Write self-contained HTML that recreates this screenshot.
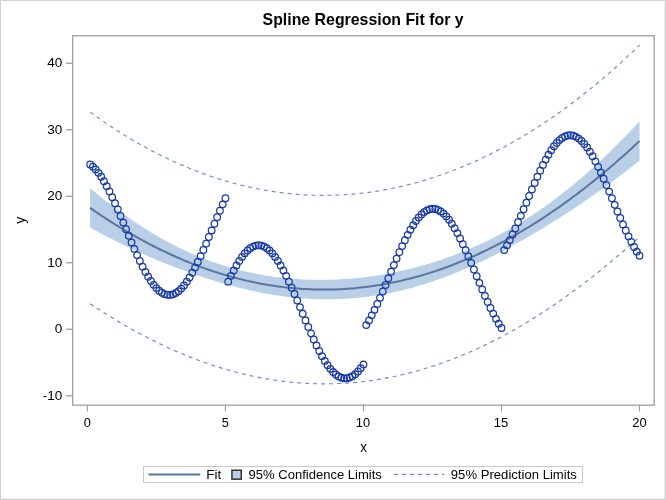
<!DOCTYPE html>
<html><head><meta charset="utf-8"><title>Spline Regression Fit for y</title>
<style>
html,body{margin:0;padding:0;background:#fff;}
svg{display:block;font-family:"Liberation Sans",sans-serif;}
</style></head><body>
<svg width="666" height="500" viewBox="0 0 666 500">
<rect x="0" y="0" width="666" height="500" fill="#fff"/>
<path d="M0,0H666V500H0Z M1,1V498.65H664.65V1Z" fill="#d0d0d0" fill-rule="evenodd"/>
<g fill="#000"><text transform="translate(363.1,25.4) scale(1.005,1)" text-anchor="middle" font-size="15.8" font-weight="bold">Spline Regression Fit for y</text></g>
<path d="M90.16,188.24 L92.92,190.55 L95.68,192.83 L98.44,195.08 L101.20,197.30 L103.96,199.49 L106.73,201.66 L109.49,203.79 L112.25,205.90 L115.01,207.97 L117.77,210.02 L120.53,212.04 L123.29,214.02 L126.05,215.98 L128.81,217.91 L131.57,219.81 L134.33,221.68 L137.09,223.51 L139.85,225.32 L142.61,227.10 L145.38,228.85 L148.14,230.56 L150.90,232.25 L153.66,233.91 L156.42,235.53 L159.18,237.13 L161.94,238.69 L164.70,240.22 L167.46,241.72 L170.22,243.19 L172.98,244.63 L175.74,246.04 L178.50,247.42 L181.27,248.76 L184.03,250.08 L186.79,251.36 L189.55,252.61 L192.31,253.83 L195.07,255.02 L197.83,256.18 L200.59,257.31 L203.35,258.41 L206.11,259.48 L208.87,260.51 L211.63,261.52 L214.39,262.49 L217.16,263.44 L219.92,264.36 L222.68,265.24 L225.44,266.10 L228.20,266.93 L230.96,267.73 L233.72,268.50 L236.48,269.25 L239.24,269.96 L242.00,270.65 L244.76,271.31 L247.52,271.95 L250.28,272.56 L253.04,273.14 L255.81,273.69 L258.57,274.22 L261.33,274.73 L264.09,275.21 L266.85,275.66 L269.61,276.09 L272.37,276.50 L275.13,276.88 L277.89,277.24 L280.65,277.57 L283.41,277.89 L286.17,278.17 L288.93,278.44 L291.70,278.68 L294.46,278.90 L297.22,279.09 L299.98,279.27 L302.74,279.42 L305.50,279.55 L308.26,279.66 L311.02,279.74 L313.78,279.81 L316.54,279.85 L319.30,279.87 L322.06,279.87 L324.82,279.85 L327.59,279.80 L330.35,279.74 L333.11,279.65 L335.87,279.54 L338.63,279.42 L341.39,279.27 L344.15,279.10 L346.91,278.91 L349.67,278.69 L352.43,278.46 L355.19,278.21 L357.95,277.93 L360.71,277.64 L363.47,277.32 L366.24,276.99 L369.00,276.63 L371.76,276.25 L374.52,275.85 L377.28,275.43 L380.04,274.99 L382.80,274.53 L385.56,274.05 L388.32,273.54 L391.08,273.02 L393.84,272.48 L396.60,271.91 L399.36,271.32 L402.13,270.71 L404.89,270.08 L407.65,269.43 L410.41,268.76 L413.17,268.07 L415.93,267.35 L418.69,266.61 L421.45,265.86 L424.21,265.07 L426.97,264.27 L429.73,263.45 L432.49,262.60 L435.25,261.73 L438.02,260.84 L440.78,259.92 L443.54,258.99 L446.30,258.03 L449.06,257.04 L451.82,256.03 L454.58,255.00 L457.34,253.95 L460.10,252.87 L462.86,251.76 L465.62,250.64 L468.38,249.48 L471.14,248.31 L473.90,247.10 L476.67,245.87 L479.43,244.62 L482.19,243.34 L484.95,242.03 L487.71,240.69 L490.47,239.33 L493.23,237.94 L495.99,236.52 L498.75,235.08 L501.51,233.60 L504.27,232.10 L507.03,230.57 L509.79,229.01 L512.56,227.42 L515.32,225.80 L518.08,224.15 L520.84,222.47 L523.60,220.76 L526.36,219.02 L529.12,217.25 L531.88,215.45 L534.64,213.62 L537.40,211.76 L540.16,209.86 L542.92,207.94 L545.68,205.98 L548.45,203.99 L551.21,201.98 L553.97,199.93 L556.73,197.84 L559.49,195.73 L562.25,193.59 L565.01,191.41 L567.77,189.21 L570.53,186.97 L573.29,184.70 L576.05,182.40 L578.81,180.08 L581.57,177.72 L584.33,175.33 L587.10,172.91 L589.86,170.45 L592.62,167.97 L595.38,165.46 L598.14,162.92 L600.90,160.35 L603.66,157.75 L606.42,155.12 L609.18,152.46 L611.94,149.77 L614.70,147.05 L617.46,144.30 L620.22,141.52 L622.99,138.71 L625.75,135.87 L628.51,133.01 L631.27,130.11 L634.03,127.19 L636.79,124.24 L639.55,121.26 L639.55,160.63 L636.79,162.83 L634.03,165.01 L631.27,167.18 L628.51,169.32 L625.75,171.46 L622.99,173.57 L620.22,175.67 L617.46,177.75 L614.70,179.82 L611.94,181.87 L609.18,183.90 L606.42,185.92 L603.66,187.92 L600.90,189.91 L598.14,191.88 L595.38,193.84 L592.62,195.78 L589.86,197.70 L587.10,199.61 L584.33,201.51 L581.57,203.38 L578.81,205.25 L576.05,207.10 L573.29,208.93 L570.53,210.75 L567.77,212.56 L565.01,214.35 L562.25,216.12 L559.49,217.88 L556.73,219.63 L553.97,221.36 L551.21,223.08 L548.45,224.79 L545.68,226.48 L542.92,228.15 L540.16,229.81 L537.40,231.46 L534.64,233.09 L531.88,234.71 L529.12,236.31 L526.36,237.90 L523.60,239.47 L520.84,241.03 L518.08,242.58 L515.32,244.10 L512.56,245.62 L509.79,247.11 L507.03,248.59 L504.27,250.06 L501.51,251.50 L498.75,252.93 L495.99,254.35 L493.23,255.74 L490.47,257.12 L487.71,258.48 L484.95,259.82 L482.19,261.14 L479.43,262.45 L476.67,263.73 L473.90,264.99 L471.14,266.24 L468.38,267.46 L465.62,268.67 L462.86,269.85 L460.10,271.01 L457.34,272.16 L454.58,273.28 L451.82,274.38 L449.06,275.45 L446.30,276.51 L443.54,277.54 L440.78,278.55 L438.02,279.54 L435.25,280.50 L432.49,281.44 L429.73,282.36 L426.97,283.26 L424.21,284.13 L421.45,284.98 L418.69,285.80 L415.93,286.60 L413.17,287.38 L410.41,288.13 L407.65,288.86 L404.89,289.57 L402.13,290.25 L399.36,290.91 L396.60,291.54 L393.84,292.15 L391.08,292.73 L388.32,293.29 L385.56,293.82 L382.80,294.33 L380.04,294.82 L377.28,295.28 L374.52,295.71 L371.76,296.12 L369.00,296.51 L366.24,296.87 L363.47,297.21 L360.71,297.52 L357.95,297.81 L355.19,298.07 L352.43,298.31 L349.67,298.52 L346.91,298.71 L344.15,298.87 L341.39,299.01 L338.63,299.12 L335.87,299.21 L333.11,299.28 L330.35,299.32 L327.59,299.34 L324.82,299.33 L322.06,299.30 L319.30,299.24 L316.54,299.16 L313.78,299.06 L311.02,298.93 L308.26,298.78 L305.50,298.60 L302.74,298.40 L299.98,298.18 L297.22,297.94 L294.46,297.67 L291.70,297.38 L288.93,297.06 L286.17,296.73 L283.41,296.37 L280.65,295.99 L277.89,295.58 L275.13,295.16 L272.37,294.71 L269.61,294.24 L266.85,293.75 L264.09,293.24 L261.33,292.71 L258.57,292.16 L255.81,291.59 L253.04,291.00 L250.28,290.38 L247.52,289.75 L244.76,289.10 L242.00,288.44 L239.24,287.75 L236.48,287.05 L233.72,286.32 L230.96,285.58 L228.20,284.83 L225.44,284.05 L222.68,283.26 L219.92,282.46 L217.16,281.63 L214.39,280.79 L211.63,279.94 L208.87,279.07 L206.11,278.18 L203.35,277.28 L200.59,276.37 L197.83,275.44 L195.07,274.50 L192.31,273.54 L189.55,272.56 L186.79,271.57 L184.03,270.57 L181.27,269.56 L178.50,268.52 L175.74,267.48 L172.98,266.42 L170.22,265.35 L167.46,264.26 L164.70,263.16 L161.94,262.04 L159.18,260.91 L156.42,259.76 L153.66,258.60 L150.90,257.42 L148.14,256.23 L145.38,255.03 L142.61,253.81 L139.85,252.57 L137.09,251.32 L134.33,250.05 L131.57,248.77 L128.81,247.47 L126.05,246.16 L123.29,244.83 L120.53,243.48 L117.77,242.12 L115.01,240.74 L112.25,239.35 L109.49,237.94 L106.73,236.52 L103.96,235.07 L101.20,233.62 L98.44,232.14 L95.68,230.65 L92.92,229.14 L90.16,227.62Z" fill="#b9cfe7" stroke="none"/>
<path d="M90.16,207.93 L92.92,209.85 L95.68,211.74 L98.44,213.61 L101.20,215.46 L103.96,217.28 L106.73,219.09 L109.49,220.87 L112.25,222.62 L115.01,224.36 L117.77,226.07 L120.53,227.76 L123.29,229.43 L126.05,231.07 L128.81,232.69 L131.57,234.29 L134.33,235.86 L137.09,237.42 L139.85,238.95 L142.61,240.45 L145.38,241.94 L148.14,243.40 L150.90,244.84 L153.66,246.25 L156.42,247.65 L159.18,249.02 L161.94,250.36 L164.70,251.69 L167.46,252.99 L170.22,254.27 L172.98,255.53 L175.74,256.76 L178.50,257.97 L181.27,259.16 L184.03,260.33 L186.79,261.47 L189.55,262.59 L192.31,263.69 L195.07,264.76 L197.83,265.81 L200.59,266.84 L203.35,267.85 L206.11,268.83 L208.87,269.79 L211.63,270.73 L214.39,271.64 L217.16,272.54 L219.92,273.41 L222.68,274.25 L225.44,275.08 L228.20,275.88 L230.96,276.66 L233.72,277.41 L236.48,278.15 L239.24,278.86 L242.00,279.54 L244.76,280.21 L247.52,280.85 L250.28,281.47 L253.04,282.07 L255.81,282.64 L258.57,283.19 L261.33,283.72 L264.09,284.22 L266.85,284.71 L269.61,285.17 L272.37,285.60 L275.13,286.02 L277.89,286.41 L280.65,286.78 L283.41,287.13 L286.17,287.45 L288.93,287.75 L291.70,288.03 L294.46,288.28 L297.22,288.52 L299.98,288.73 L302.74,288.91 L305.50,289.08 L308.26,289.22 L311.02,289.34 L313.78,289.43 L316.54,289.51 L319.30,289.56 L322.06,289.58 L324.82,289.59 L327.59,289.57 L330.35,289.53 L333.11,289.47 L335.87,289.38 L338.63,289.27 L341.39,289.14 L344.15,288.98 L346.91,288.81 L349.67,288.61 L352.43,288.38 L355.19,288.14 L357.95,287.87 L360.71,287.58 L363.47,287.26 L366.24,286.93 L369.00,286.57 L371.76,286.19 L374.52,285.78 L377.28,285.35 L380.04,284.90 L382.80,284.43 L385.56,283.93 L388.32,283.42 L391.08,282.87 L393.84,282.31 L396.60,281.72 L399.36,281.11 L402.13,280.48 L404.89,279.83 L407.65,279.15 L410.41,278.45 L413.17,277.72 L415.93,276.98 L418.69,276.21 L421.45,275.42 L424.21,274.60 L426.97,273.76 L429.73,272.90 L432.49,272.02 L435.25,271.12 L438.02,270.19 L440.78,269.24 L443.54,268.26 L446.30,267.27 L449.06,266.25 L451.82,265.20 L454.58,264.14 L457.34,263.05 L460.10,261.94 L462.86,260.81 L465.62,259.65 L468.38,258.47 L471.14,257.27 L473.90,256.05 L476.67,254.80 L479.43,253.53 L482.19,252.24 L484.95,250.92 L487.71,249.59 L490.47,248.22 L493.23,246.84 L495.99,245.43 L498.75,244.01 L501.51,242.55 L504.27,241.08 L507.03,239.58 L509.79,238.06 L512.56,236.52 L515.32,234.95 L518.08,233.36 L520.84,231.75 L523.60,230.12 L526.36,228.46 L529.12,226.78 L531.88,225.08 L534.64,223.36 L537.40,221.61 L540.16,219.84 L542.92,218.05 L545.68,216.23 L548.45,214.39 L551.21,212.53 L553.97,210.64 L556.73,208.74 L559.49,206.81 L562.25,204.86 L565.01,202.88 L567.77,200.88 L570.53,198.86 L573.29,196.82 L576.05,194.75 L578.81,192.66 L581.57,190.55 L584.33,188.42 L587.10,186.26 L589.86,184.08 L592.62,181.88 L595.38,179.65 L598.14,177.40 L600.90,175.13 L603.66,172.84 L606.42,170.52 L609.18,168.18 L611.94,165.82 L614.70,163.43 L617.46,161.02 L620.22,158.59 L622.99,156.14 L625.75,153.66 L628.51,151.17 L631.27,148.64 L634.03,146.10 L636.79,143.53 L639.55,140.94" fill="none" stroke="#5b759f" stroke-width="2"/>
<path d="M90.16,112.15 L92.92,114.14 L95.68,116.11 L98.44,118.06 L101.20,119.98 L103.96,121.87 L106.73,123.74 L109.49,125.59 L112.25,127.41 L115.01,129.20 L117.77,130.97 L120.53,132.71 L123.29,134.43 L126.05,136.13 L128.81,137.79 L131.57,139.44 L134.33,141.06 L137.09,142.65 L139.85,144.22 L142.61,145.77 L145.38,147.29 L148.14,148.79 L150.90,150.26 L153.66,151.71 L156.42,153.13 L159.18,154.53 L161.94,155.90 L164.70,157.25 L167.46,158.58 L170.22,159.88 L172.98,161.16 L175.74,162.41 L178.50,163.64 L181.27,164.85 L184.03,166.03 L186.79,167.19 L189.55,168.32 L192.31,169.43 L195.07,170.52 L197.83,171.58 L200.59,172.62 L203.35,173.64 L206.11,174.63 L208.87,175.60 L211.63,176.54 L214.39,177.46 L217.16,178.36 L219.92,179.23 L222.68,180.08 L225.44,180.91 L228.20,181.71 L230.96,182.50 L233.72,183.25 L236.48,183.99 L239.24,184.70 L242.00,185.39 L244.76,186.05 L247.52,186.69 L250.28,187.31 L253.04,187.90 L255.81,188.48 L258.57,189.03 L261.33,189.55 L264.09,190.06 L266.85,190.54 L269.61,190.99 L272.37,191.43 L275.13,191.84 L277.89,192.23 L280.65,192.59 L283.41,192.93 L286.17,193.25 L288.93,193.55 L291.70,193.83 L294.46,194.08 L297.22,194.31 L299.98,194.51 L302.74,194.70 L305.50,194.86 L308.26,194.99 L311.02,195.11 L313.78,195.20 L316.54,195.27 L319.30,195.32 L322.06,195.34 L324.82,195.35 L327.59,195.32 L330.35,195.28 L333.11,195.22 L335.87,195.13 L338.63,195.02 L341.39,194.88 L344.15,194.73 L346.91,194.55 L349.67,194.35 L352.43,194.12 L355.19,193.88 L357.95,193.61 L360.71,193.32 L363.47,193.00 L366.24,192.67 L369.00,192.31 L371.76,191.92 L374.52,191.52 L377.28,191.09 L380.04,190.64 L382.80,190.17 L385.56,189.68 L388.32,189.16 L391.08,188.62 L393.84,188.06 L396.60,187.47 L399.36,186.87 L402.13,186.24 L404.89,185.58 L407.65,184.91 L410.41,184.21 L413.17,183.49 L415.93,182.75 L418.69,181.98 L421.45,181.19 L424.21,180.38 L426.97,179.55 L429.73,178.69 L432.49,177.81 L435.25,176.91 L438.02,175.99 L440.78,175.04 L443.54,174.07 L446.30,173.07 L449.06,172.06 L451.82,171.02 L454.58,169.96 L457.34,168.87 L460.10,167.77 L462.86,166.64 L465.62,165.48 L468.38,164.31 L471.14,163.11 L473.90,161.88 L476.67,160.64 L479.43,159.37 L482.19,158.08 L484.95,156.76 L487.71,155.43 L490.47,154.07 L493.23,152.68 L495.99,151.27 L498.75,149.84 L501.51,148.39 L504.27,146.91 L507.03,145.41 L509.79,143.89 L512.56,142.34 L515.32,140.77 L518.08,139.18 L520.84,137.56 L523.60,135.92 L526.36,134.25 L529.12,132.56 L531.88,130.85 L534.64,129.12 L537.40,127.36 L540.16,125.57 L542.92,123.76 L545.68,121.93 L548.45,120.08 L551.21,118.20 L553.97,116.30 L556.73,114.37 L559.49,112.42 L562.25,110.44 L565.01,108.44 L567.77,106.42 L570.53,104.37 L573.29,102.30 L576.05,100.20 L578.81,98.08 L581.57,95.94 L584.33,93.77 L587.10,91.57 L589.86,89.36 L592.62,87.11 L595.38,84.84 L598.14,82.55 L600.90,80.23 L603.66,77.89 L606.42,75.52 L609.18,73.13 L611.94,70.72 L614.70,68.27 L617.46,65.81 L620.22,63.31 L622.99,60.80 L625.75,58.25 L628.51,55.69 L631.27,53.09 L634.03,50.47 L636.79,47.83 L639.55,45.16" fill="none" stroke="#7089c9" stroke-width="1.15" stroke-dasharray="4 4"/>
<path d="M90.16,303.71 L92.92,305.55 L95.68,307.36 L98.44,309.16 L101.20,310.94 L103.96,312.69 L106.73,314.43 L109.49,316.15 L112.25,317.84 L115.01,319.52 L117.77,321.17 L120.53,322.81 L123.29,324.42 L126.05,326.01 L128.81,327.59 L131.57,329.14 L134.33,330.67 L137.09,332.18 L139.85,333.67 L142.61,335.14 L145.38,336.58 L148.14,338.01 L150.90,339.42 L153.66,340.80 L156.42,342.16 L159.18,343.50 L161.94,344.83 L164.70,346.12 L167.46,347.40 L170.22,348.66 L172.98,349.89 L175.74,351.11 L178.50,352.30 L181.27,353.47 L184.03,354.62 L186.79,355.75 L189.55,356.85 L192.31,357.94 L195.07,359.00 L197.83,360.04 L200.59,361.06 L203.35,362.06 L206.11,363.03 L208.87,363.99 L211.63,364.92 L214.39,365.83 L217.16,366.71 L219.92,367.58 L222.68,368.42 L225.44,369.24 L228.20,370.04 L230.96,370.82 L233.72,371.57 L236.48,372.30 L239.24,373.01 L242.00,373.70 L244.76,374.37 L247.52,375.01 L250.28,375.63 L253.04,376.23 L255.81,376.80 L258.57,377.36 L261.33,377.89 L264.09,378.39 L266.85,378.88 L269.61,379.34 L272.37,379.78 L275.13,380.20 L277.89,380.60 L280.65,380.97 L283.41,381.32 L286.17,381.64 L288.93,381.95 L291.70,382.23 L294.46,382.49 L297.22,382.73 L299.98,382.94 L302.74,383.13 L305.50,383.30 L308.26,383.44 L311.02,383.56 L313.78,383.66 L316.54,383.74 L319.30,383.79 L322.06,383.82 L324.82,383.83 L327.59,383.81 L330.35,383.78 L333.11,383.72 L335.87,383.63 L338.63,383.52 L341.39,383.39 L344.15,383.24 L346.91,383.07 L349.67,382.87 L352.43,382.64 L355.19,382.40 L357.95,382.13 L360.71,381.84 L363.47,381.53 L366.24,381.19 L369.00,380.83 L371.76,380.45 L374.52,380.04 L377.28,379.62 L380.04,379.16 L382.80,378.69 L385.56,378.19 L388.32,377.67 L391.08,377.13 L393.84,376.56 L396.60,375.97 L399.36,375.36 L402.13,374.73 L404.89,374.07 L407.65,373.39 L410.41,372.68 L413.17,371.96 L415.93,371.21 L418.69,370.44 L421.45,369.64 L424.21,368.82 L426.97,367.98 L429.73,367.12 L432.49,366.23 L435.25,365.32 L438.02,364.39 L440.78,363.44 L443.54,362.46 L446.30,361.46 L449.06,360.43 L451.82,359.39 L454.58,358.32 L457.34,357.23 L460.10,356.12 L462.86,354.98 L465.62,353.82 L468.38,352.64 L471.14,351.44 L473.90,350.21 L476.67,348.96 L479.43,347.69 L482.19,346.40 L484.95,345.08 L487.71,343.74 L490.47,342.38 L493.23,341.00 L495.99,339.59 L498.75,338.17 L501.51,336.72 L504.27,335.25 L507.03,333.75 L509.79,332.23 L512.56,330.70 L515.32,329.14 L518.08,327.55 L520.84,325.95 L523.60,324.32 L526.36,322.67 L529.12,321.00 L531.88,319.31 L534.64,317.60 L537.40,315.86 L540.16,314.10 L542.92,312.33 L545.68,310.52 L548.45,308.70 L551.21,306.86 L553.97,304.99 L556.73,303.11 L559.49,301.20 L562.25,299.27 L565.01,297.32 L567.77,295.34 L570.53,293.35 L573.29,291.33 L576.05,289.30 L578.81,287.24 L581.57,285.16 L584.33,283.06 L587.10,280.94 L589.86,278.80 L592.62,276.64 L595.38,274.45 L598.14,272.25 L600.90,270.03 L603.66,267.78 L606.42,265.51 L609.18,263.23 L611.94,260.92 L614.70,258.59 L617.46,256.24 L620.22,253.87 L622.99,251.48 L625.75,249.08 L628.51,246.65 L631.27,244.20 L634.03,241.73 L636.79,239.24 L639.55,236.73" fill="none" stroke="#7089c9" stroke-width="1.15" stroke-dasharray="4 4"/>
<g fill="none" stroke="#173aa8" stroke-width="1.25"><circle cx="90.16" cy="164.51" r="3.3"/><circle cx="92.92" cy="166.69" r="3.3"/><circle cx="95.68" cy="169.48" r="3.3"/><circle cx="98.44" cy="172.85" r="3.3"/><circle cx="101.20" cy="176.79" r="3.3"/><circle cx="103.96" cy="181.24" r="3.3"/><circle cx="106.73" cy="186.16" r="3.3"/><circle cx="109.49" cy="191.50" r="3.3"/><circle cx="112.25" cy="197.21" r="3.3"/><circle cx="115.01" cy="203.24" r="3.3"/><circle cx="117.77" cy="209.51" r="3.3"/><circle cx="120.53" cy="215.98" r="3.3"/><circle cx="123.29" cy="222.57" r="3.3"/><circle cx="126.05" cy="229.21" r="3.3"/><circle cx="128.81" cy="235.85" r="3.3"/><circle cx="131.57" cy="242.42" r="3.3"/><circle cx="134.33" cy="248.84" r="3.3"/><circle cx="137.09" cy="255.06" r="3.3"/><circle cx="139.85" cy="261.02" r="3.3"/><circle cx="142.61" cy="266.65" r="3.3"/><circle cx="145.38" cy="271.90" r="3.3"/><circle cx="148.14" cy="276.71" r="3.3"/><circle cx="150.90" cy="281.04" r="3.3"/><circle cx="153.66" cy="284.84" r="3.3"/><circle cx="156.42" cy="288.08" r="3.3"/><circle cx="159.18" cy="290.73" r="3.3"/><circle cx="161.94" cy="292.75" r="3.3"/><circle cx="164.70" cy="294.13" r="3.3"/><circle cx="167.46" cy="294.85" r="3.3"/><circle cx="170.22" cy="294.91" r="3.3"/><circle cx="172.98" cy="294.31" r="3.3"/><circle cx="175.74" cy="293.04" r="3.3"/><circle cx="178.50" cy="291.13" r="3.3"/><circle cx="181.27" cy="288.60" r="3.3"/><circle cx="184.03" cy="285.46" r="3.3"/><circle cx="186.79" cy="281.75" r="3.3"/><circle cx="189.55" cy="277.51" r="3.3"/><circle cx="192.31" cy="272.78" r="3.3"/><circle cx="195.07" cy="267.61" r="3.3"/><circle cx="197.83" cy="262.04" r="3.3"/><circle cx="200.59" cy="256.14" r="3.3"/><circle cx="203.35" cy="249.96" r="3.3"/><circle cx="206.11" cy="243.57" r="3.3"/><circle cx="208.87" cy="237.02" r="3.3"/><circle cx="211.63" cy="230.39" r="3.3"/><circle cx="214.39" cy="223.74" r="3.3"/><circle cx="217.16" cy="217.14" r="3.3"/><circle cx="219.92" cy="210.65" r="3.3"/><circle cx="222.68" cy="204.33" r="3.3"/><circle cx="225.44" cy="198.26" r="3.3"/><circle cx="228.20" cy="281.63" r="3.3"/><circle cx="230.96" cy="275.86" r="3.3"/><circle cx="233.72" cy="270.45" r="3.3"/><circle cx="236.48" cy="265.45" r="3.3"/><circle cx="239.24" cy="260.92" r="3.3"/><circle cx="242.00" cy="256.89" r="3.3"/><circle cx="244.76" cy="253.42" r="3.3"/><circle cx="247.52" cy="250.52" r="3.3"/><circle cx="250.28" cy="248.24" r="3.3"/><circle cx="253.04" cy="246.60" r="3.3"/><circle cx="255.81" cy="245.60" r="3.3"/><circle cx="258.57" cy="245.27" r="3.3"/><circle cx="261.33" cy="245.60" r="3.3"/><circle cx="264.09" cy="246.60" r="3.3"/><circle cx="266.85" cy="248.24" r="3.3"/><circle cx="269.61" cy="250.52" r="3.3"/><circle cx="272.37" cy="253.42" r="3.3"/><circle cx="275.13" cy="256.89" r="3.3"/><circle cx="277.89" cy="260.92" r="3.3"/><circle cx="280.65" cy="265.45" r="3.3"/><circle cx="283.41" cy="270.45" r="3.3"/><circle cx="286.17" cy="275.86" r="3.3"/><circle cx="288.93" cy="281.63" r="3.3"/><circle cx="291.70" cy="287.70" r="3.3"/><circle cx="294.46" cy="294.02" r="3.3"/><circle cx="297.22" cy="300.51" r="3.3"/><circle cx="299.98" cy="307.11" r="3.3"/><circle cx="302.74" cy="313.76" r="3.3"/><circle cx="305.50" cy="320.39" r="3.3"/><circle cx="308.26" cy="326.94" r="3.3"/><circle cx="311.02" cy="333.33" r="3.3"/><circle cx="313.78" cy="339.51" r="3.3"/><circle cx="316.54" cy="345.42" r="3.3"/><circle cx="319.30" cy="350.98" r="3.3"/><circle cx="322.06" cy="356.16" r="3.3"/><circle cx="324.82" cy="360.89" r="3.3"/><circle cx="327.59" cy="365.13" r="3.3"/><circle cx="330.35" cy="368.84" r="3.3"/><circle cx="333.11" cy="371.98" r="3.3"/><circle cx="335.87" cy="374.52" r="3.3"/><circle cx="338.63" cy="376.43" r="3.3"/><circle cx="341.39" cy="377.70" r="3.3"/><circle cx="344.15" cy="378.31" r="3.3"/><circle cx="346.91" cy="378.25" r="3.3"/><circle cx="349.67" cy="377.53" r="3.3"/><circle cx="352.43" cy="376.16" r="3.3"/><circle cx="355.19" cy="374.14" r="3.3"/><circle cx="357.95" cy="371.50" r="3.3"/><circle cx="360.71" cy="368.26" r="3.3"/><circle cx="363.47" cy="364.46" r="3.3"/><circle cx="366.24" cy="325.12" r="3.3"/><circle cx="369.00" cy="320.47" r="3.3"/><circle cx="371.76" cy="315.36" r="3.3"/><circle cx="374.52" cy="309.85" r="3.3"/><circle cx="377.28" cy="304.00" r="3.3"/><circle cx="380.04" cy="297.86" r="3.3"/><circle cx="382.80" cy="291.50" r="3.3"/><circle cx="385.56" cy="284.97" r="3.3"/><circle cx="388.32" cy="278.35" r="3.3"/><circle cx="391.08" cy="271.70" r="3.3"/><circle cx="393.84" cy="265.09" r="3.3"/><circle cx="396.60" cy="258.57" r="3.3"/><circle cx="399.36" cy="252.23" r="3.3"/><circle cx="402.13" cy="246.11" r="3.3"/><circle cx="404.89" cy="240.29" r="3.3"/><circle cx="407.65" cy="234.81" r="3.3"/><circle cx="410.41" cy="229.74" r="3.3"/><circle cx="413.17" cy="225.13" r="3.3"/><circle cx="415.93" cy="221.02" r="3.3"/><circle cx="418.69" cy="217.45" r="3.3"/><circle cx="421.45" cy="214.46" r="3.3"/><circle cx="424.21" cy="212.08" r="3.3"/><circle cx="426.97" cy="210.32" r="3.3"/><circle cx="429.73" cy="209.22" r="3.3"/><circle cx="432.49" cy="208.78" r="3.3"/><circle cx="435.25" cy="209.01" r="3.3"/><circle cx="438.02" cy="209.89" r="3.3"/><circle cx="440.78" cy="211.43" r="3.3"/><circle cx="443.54" cy="213.61" r="3.3"/><circle cx="446.30" cy="216.41" r="3.3"/><circle cx="449.06" cy="219.79" r="3.3"/><circle cx="451.82" cy="223.73" r="3.3"/><circle cx="454.58" cy="228.18" r="3.3"/><circle cx="457.34" cy="233.11" r="3.3"/><circle cx="460.10" cy="238.45" r="3.3"/><circle cx="462.86" cy="244.17" r="3.3"/><circle cx="465.62" cy="250.19" r="3.3"/><circle cx="468.38" cy="256.47" r="3.3"/><circle cx="471.14" cy="262.94" r="3.3"/><circle cx="473.90" cy="269.53" r="3.3"/><circle cx="476.67" cy="276.17" r="3.3"/><circle cx="479.43" cy="282.81" r="3.3"/><circle cx="482.19" cy="289.38" r="3.3"/><circle cx="484.95" cy="295.80" r="3.3"/><circle cx="487.71" cy="302.02" r="3.3"/><circle cx="490.47" cy="307.97" r="3.3"/><circle cx="493.23" cy="313.60" r="3.3"/><circle cx="495.99" cy="318.84" r="3.3"/><circle cx="498.75" cy="323.65" r="3.3"/><circle cx="501.51" cy="327.98" r="3.3"/><circle cx="504.27" cy="250.12" r="3.3"/><circle cx="507.03" cy="245.31" r="3.3"/><circle cx="509.79" cy="240.06" r="3.3"/><circle cx="512.56" cy="234.43" r="3.3"/><circle cx="515.32" cy="228.48" r="3.3"/><circle cx="518.08" cy="222.26" r="3.3"/><circle cx="520.84" cy="215.84" r="3.3"/><circle cx="523.60" cy="209.27" r="3.3"/><circle cx="526.36" cy="202.63" r="3.3"/><circle cx="529.12" cy="195.99" r="3.3"/><circle cx="531.88" cy="189.40" r="3.3"/><circle cx="534.64" cy="182.93" r="3.3"/><circle cx="537.40" cy="176.65" r="3.3"/><circle cx="540.16" cy="170.63" r="3.3"/><circle cx="542.92" cy="164.92" r="3.3"/><circle cx="545.68" cy="159.57" r="3.3"/><circle cx="548.45" cy="154.65" r="3.3"/><circle cx="551.21" cy="150.20" r="3.3"/><circle cx="553.97" cy="146.26" r="3.3"/><circle cx="556.73" cy="142.88" r="3.3"/><circle cx="559.49" cy="140.09" r="3.3"/><circle cx="562.25" cy="137.91" r="3.3"/><circle cx="565.01" cy="136.37" r="3.3"/><circle cx="567.77" cy="135.49" r="3.3"/><circle cx="570.53" cy="135.27" r="3.3"/><circle cx="573.29" cy="135.71" r="3.3"/><circle cx="576.05" cy="136.82" r="3.3"/><circle cx="578.81" cy="138.57" r="3.3"/><circle cx="581.57" cy="140.96" r="3.3"/><circle cx="584.33" cy="143.95" r="3.3"/><circle cx="587.10" cy="147.52" r="3.3"/><circle cx="589.86" cy="151.64" r="3.3"/><circle cx="592.62" cy="156.25" r="3.3"/><circle cx="595.38" cy="161.32" r="3.3"/><circle cx="598.14" cy="166.80" r="3.3"/><circle cx="600.90" cy="172.62" r="3.3"/><circle cx="603.66" cy="178.74" r="3.3"/><circle cx="606.42" cy="185.09" r="3.3"/><circle cx="609.18" cy="191.60" r="3.3"/><circle cx="611.94" cy="198.22" r="3.3"/><circle cx="614.70" cy="204.87" r="3.3"/><circle cx="617.46" cy="211.49" r="3.3"/><circle cx="620.22" cy="218.02" r="3.3"/><circle cx="622.99" cy="224.38" r="3.3"/><circle cx="625.75" cy="230.52" r="3.3"/><circle cx="628.51" cy="236.37" r="3.3"/><circle cx="631.27" cy="241.87" r="3.3"/><circle cx="634.03" cy="246.98" r="3.3"/><circle cx="636.79" cy="251.63" r="3.3"/><circle cx="639.55" cy="255.78" r="3.3"/></g>
<rect x="72.7" y="35.8" width="581.5" height="369.4" fill="none" stroke="#989ea1" stroke-width="1.28"/>
<g stroke="#989ea1"><line x1="66.2" x2="72.7" y1="395.80" y2="395.80" stroke-width="1.3"/><line x1="66.2" x2="72.7" y1="329.28" y2="329.28" stroke-width="1.3"/><line x1="66.2" x2="72.7" y1="262.76" y2="262.76" stroke-width="1.3"/><line x1="66.2" x2="72.7" y1="196.24" y2="196.24" stroke-width="1.3"/><line x1="66.2" x2="72.7" y1="129.72" y2="129.72" stroke-width="1.3"/><line x1="66.2" x2="72.7" y1="63.20" y2="63.20" stroke-width="1.3"/><line y1="405.2" y2="411.5" x1="87.40" x2="87.40" stroke-width="1.1"/><line y1="405.2" y2="411.5" x1="225.44" x2="225.44" stroke-width="1.1"/><line y1="405.2" y2="411.5" x1="363.48" x2="363.48" stroke-width="1.1"/><line y1="405.2" y2="411.5" x1="501.51" x2="501.51" stroke-width="1.1"/><line y1="405.2" y2="411.5" x1="639.55" x2="639.55" stroke-width="1.1"/></g>
<g fill="#000"><text transform="translate(62.4,399.8) scale(1.085,1)" text-anchor="end" font-size="12.5">-10</text><text transform="translate(62.4,333.3) scale(1.085,1)" text-anchor="end" font-size="12.5">0</text><text transform="translate(62.4,266.8) scale(1.085,1)" text-anchor="end" font-size="12.5">10</text><text transform="translate(62.4,200.2) scale(1.085,1)" text-anchor="end" font-size="12.5">20</text><text transform="translate(62.4,133.7) scale(1.085,1)" text-anchor="end" font-size="12.5">30</text><text transform="translate(62.4,67.2) scale(1.085,1)" text-anchor="end" font-size="12.5">40</text><text transform="translate(87.4,427.3) scale(1.03,1)" text-anchor="middle" font-size="12.5">0</text><text transform="translate(225.4,427.3) scale(1.03,1)" text-anchor="middle" font-size="12.5">5</text><text transform="translate(363.0,427.3) scale(1.03,1)" text-anchor="middle" font-size="12.5">10</text><text transform="translate(501.0,427.3) scale(1.03,1)" text-anchor="middle" font-size="12.5">15</text><text transform="translate(639.5,427.3) scale(1.03,1)" text-anchor="middle" font-size="12.5">20</text>
<text transform="translate(363.6,451.5) scale(0.92,1)" text-anchor="middle" font-size="14.67">x</text>
<text transform="translate(24.8,220.3) rotate(-90) scale(0.97,1)" text-anchor="middle" font-size="14.67">y</text>
</g>
<rect x="143.5" y="466.5" width="439" height="16" fill="#fff" stroke="#c9c9c9" stroke-width="1"/>
<line x1="148.5" x2="200.2" y1="474.4" y2="474.4" stroke="#5b759f" stroke-width="2"/>
<rect x="231.95" y="470.25" width="9.3" height="8.9" fill="#b9cfe7" stroke="#303030" stroke-width="1.5"/>
<line x1="394" x2="444" y1="474.4" y2="474.4" stroke="#7089c9" stroke-width="1.15" stroke-dasharray="4 4"/>
<g fill="#000"><text transform="translate(206.3,479.0) scale(1.06,1)" text-anchor="start" font-size="12.7">Fit</text><text transform="translate(248.6,479.0) scale(1.026,1)" text-anchor="start" font-size="12.7">95% Confidence Limits</text><text transform="translate(450.8,479.0) scale(1.033,1)" text-anchor="start" font-size="12.7">95% Prediction Limits</text></g>
</svg>
</body></html>
